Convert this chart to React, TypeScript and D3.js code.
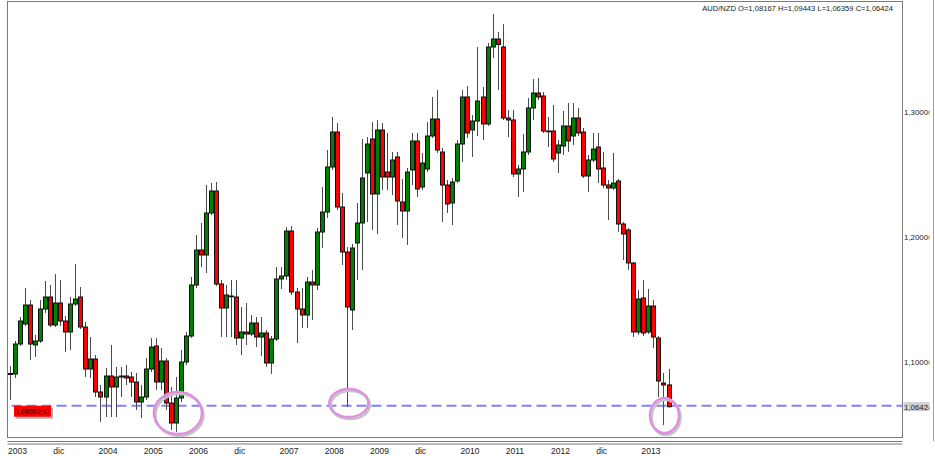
import React from "react";
import * as d3 from "d3";

const W = 935;
const H = 456;

const opens = [1.09,1.0904,1.1144,1.1304,1.1456,1.1136,1.1168,1.1424,1.152,1.1296,1.1472,1.1328,1.124,1.1464,1.152,1.128,1.0944,1.1024,1.076,1.072,1.0888,1.08,1.088,1.0888,1.088,1.084,1.068,1.072,1.0944,1.1128,1.084,1.1008,1.0672,1.0512,1.0712,1.1,1.1208,1.1616,1.1896,1.1856,1.2192,1.2368,1.1624,1.1432,1.1528,1.152,1.1192,1.124,1.1224,1.1312,1.12,1.1232,1.0992,1.1184,1.1664,1.1688,1.2048,1.156,1.1424,1.1376,1.164,1.1616,1.204,1.22,1.256,1.284,1.224,1.188,1.1416,1.1952,1.2112,1.2512,1.2784,1.2344,1.2856,1.252,1.248,1.264,1.228,1.2208,1.2536,1.2768,1.24,1.2544,1.2808,1.2944,1.268,1.2416,1.2272,1.2448,1.2744,1.312,1.2856,1.2928,1.312,1.2904,1.352,1.3584,1.352,1.2952,1.2936,1.2504,1.2544,1.268,1.3032,1.3152,1.3128,1.2848,1.2848,1.2672,1.2728,1.2888,1.2808,1.2952,1.284,1.2488,1.2616,1.272,1.2552,1.2416,1.2392,1.2448,1.2104,1.2056,1.1792,1.124,1.1512,1.124,1.1448,1.1192,1.0832,1.08167];
const highs = [1.0968,1.1168,1.136,1.1592,1.1496,1.1216,1.1496,1.1648,1.1616,1.1704,1.1656,1.1368,1.152,1.1784,1.16,1.132,1.12,1.1056,1.0816,1.0952,1.1136,1.096,1.096,1.0976,1.092,1.0912,1.0816,1.1032,1.1192,1.1192,1.1112,1.1032,1.08,1.088,1.1096,1.124,1.168,1.2016,1.2112,1.2416,1.2432,1.244,1.1656,1.1616,1.1656,1.1656,1.144,1.1472,1.1376,1.136,1.136,1.1256,1.1208,1.176,1.176,1.208,1.2088,1.1592,1.1592,1.168,1.1736,1.2072,1.24,1.2696,1.296,1.2912,1.2352,1.192,1.1944,1.2272,1.2784,1.28,1.292,1.2936,1.2912,1.2832,1.268,1.268,1.2464,1.2552,1.2832,1.2832,1.2672,1.292,1.312,1.3176,1.2712,1.2456,1.2472,1.2776,1.3176,1.3208,1.2976,1.352,1.32,1.3552,1.3784,1.364,1.3704,1.3016,1.3016,1.2576,1.2824,1.3112,1.3264,1.3272,1.316,1.296,1.3056,1.2776,1.3008,1.3072,1.3072,1.3032,1.2872,1.2656,1.2832,1.2832,1.268,1.2456,1.2672,1.2464,1.212,1.2072,1.18,1.1576,1.1656,1.1584,1.1496,1.1208,1.0912,1.09443];
const lows = [1.0696,1.0872,1.1128,1.1288,1.1016,1.104,1.1152,1.1392,1.128,1.128,1.1288,1.108,1.1096,1.1448,1.1264,1.088,1.0872,1.072,1.052,1.056,1.056,1.056,1.072,1.0816,1.072,1.0616,1.0552,1.0696,1.092,1.0776,1.0776,1.0616,1.0456,1.044,1.068,1.0976,1.1192,1.1592,1.176,1.1712,1.2176,1.1608,1.12,1.12,1.12,1.1136,1.1056,1.1136,1.1208,1.112,1.1048,1.096,1.0904,1.1168,1.1584,1.1656,1.1536,1.1152,1.1272,1.1272,1.1336,1.1576,1.1912,1.2152,1.2536,1.2216,1.1776,1.064,1.1256,1.1656,1.1736,1.212,1.2056,1.2024,1.2376,1.2376,1.2336,1.2096,1.1992,1.1936,1.2416,1.232,1.2376,1.252,1.2792,1.2672,1.212,1.2192,1.2096,1.2432,1.26,1.2792,1.264,1.2808,1.2776,1.2888,1.3432,1.3176,1.2936,1.28,1.248,1.232,1.236,1.2656,1.2936,1.3096,1.2832,1.272,1.26,1.2512,1.2656,1.268,1.2736,1.2808,1.2472,1.236,1.26,1.2432,1.2392,1.2136,1.2376,1.204,1.1816,1.1736,1.12,1.1216,1.1208,1.1224,1.1112,1.072,1.0496,1.06359];
const closes = [1.0908,1.1144,1.1328,1.1456,1.1144,1.1168,1.1424,1.152,1.1296,1.1472,1.1328,1.124,1.1464,1.1504,1.128,1.0944,1.1024,1.076,1.072,1.0888,1.08,1.088,1.0888,1.0872,1.084,1.068,1.072,1.0944,1.112,1.084,1.1008,1.0672,1.0512,1.0712,1.1,1.1208,1.1616,1.1896,1.1856,1.2192,1.2368,1.1624,1.1432,1.1536,1.1524,1.1192,1.124,1.1224,1.1312,1.12,1.1232,1.0992,1.1184,1.1664,1.1688,1.2048,1.156,1.1424,1.1376,1.164,1.1616,1.204,1.22,1.256,1.284,1.224,1.188,1.144,1.1912,1.2112,1.2472,1.2744,1.2344,1.2856,1.248,1.248,1.2616,1.2288,1.2208,1.252,1.2768,1.2384,1.2592,1.2808,1.2944,1.2696,1.2416,1.2264,1.244,1.2744,1.312,1.2832,1.2928,1.3088,1.2904,1.352,1.3584,1.354,1.2952,1.2936,1.2504,1.2544,1.268,1.3032,1.3152,1.312,1.2848,1.2844,1.2624,1.2736,1.2888,1.2768,1.2952,1.2832,1.2488,1.2616,1.2704,1.2544,1.2416,1.2392,1.2432,1.2104,1.2024,1.1792,1.124,1.1504,1.1232,1.1448,1.12,1.0848,1.0816,1.06424];

const xLabels = ["2003","dic","2004","2005","2006","dic","2007","2008","2009","dic","2010","2011","2012","dic","2013"];
const xLabelEvery = 9;
const yTicks = [1.1, 1.2, 1.3];
const hLineLevel = 1.06502;
const hLineLabel = "1,06502,C";
const lastClose = 1.06424;
const title = "AUD/NZD O=1,08167 H=1,09443 L=1,06359 C=1,06424";
// annotation ellipses: candle index, price, radii
const circleIdx = [33.4, 67.4, 130.2];
const circlePrice = [1.0592, 1.0672, 1.0572];
const circleRx = [24, 19.5, 14.5];
const circleRy = [21, 14, 17.5];

const FONT = "'Liberation Sans', Arial, sans-serif";

export default function App() {
  const plotL = 7.5, plotR = 902.5, plotT = 1.5, plotB = 437.5;
  const n = opens.length;
  const x = d3.scaleLinear().domain([0, n - 1]).range([10, 668.5]);
  const y = d3.scaleLinear().domain([1.04, 1.388]).range([437, 2]);
  const fmt = (v: number) => d3.format(".5f")(v).replace(".", ",");
  const candles = d3.range(n).map((i) => ({
    i, o: opens[i], h: highs[i], l: lows[i], c: closes[i],
  }));

  return (
    <svg width={W} height={H} style={{ position: "absolute", left: 0, top: 0, background: "#fff" }} fontFamily={FONT}>
      <defs>
        <clipPath id="rightclip">
          <rect x={0} y={0} width={929.5} height={H} />
        </clipPath>
        <clipPath id="plotclip">
          <rect x={plotL} y={plotT} width={plotR - plotL} height={plotB - plotT} />
        </clipPath>
      </defs>
      <rect x={0} y={0} width={W} height={H} fill="#fff" />
      <line x1={933.5} x2={933.5} y1={0} y2={441} stroke="#a0a0a0" />
      <rect x={plotL} y={plotT} width={plotR - plotL} height={plotB - plotT} fill="none" stroke="#7a7a7a" />
      <line x1={plotL} x2={plotR} y1={441.5} y2={441.5} stroke="#7a7a7a" />
      <line x1={plotL} x2={plotR} y1={444} y2={444} stroke="#7a7a7a" />

      <line x1={plotL + 4} x2={plotR} y1={y(hLineLevel)} y2={y(hLineLevel)} stroke="#8080ff" strokeWidth={2} strokeDasharray="10,5" />

      <g clipPath="url(#plotclip)">
        {candles.map((d) => {
          const cx = Math.round(x(d.i)) + 0.5;
          const top = Math.min(y(d.o), y(d.c));
          const bot = Math.max(y(d.o), y(d.c));
          const up = d.c >= d.o;
          return (
            <g key={d.i}>
              <line x1={cx} x2={cx} y1={y(d.h)} y2={y(d.l)} stroke="#4a4a4a" strokeWidth={1} />
              <rect x={cx - 2} y={top} width={4} height={Math.max(bot - top, 0.8)} fill={up ? "#008000" : "#ff0000"} stroke="#111" strokeWidth={1} />
            </g>
          );
        })}
      </g>

      {circleIdx.map((ci, k) => (
        <g key={k}>
          <ellipse cx={x(ci) + 1.5} cy={y(circlePrice[k]) + 2} rx={circleRx[k]} ry={circleRy[k]} fill="none" stroke="#c4c4c4" strokeWidth={2.6} />
          <ellipse cx={x(ci)} cy={y(circlePrice[k])} rx={circleRx[k]} ry={circleRy[k]} fill="none" stroke="#e08ee0" strokeWidth={2.4} />
        </g>
      ))}

      <rect x={16} y={y(hLineLevel) + 2} width={37} height={11} fill="#b0b0b0" />
      <rect x={14} y={y(hLineLevel)} width={37} height={11} fill="#ff0000" />
      <text x={15.5} y={y(hLineLevel) + 8.4} fontSize={7.2} fill="#1a0000">{hLineLabel}</text>

      <g clipPath="url(#rightclip)">
        {yTicks.map((t) => (
          <text key={t} x={904} y={y(t) + 3} fontSize={7.9} fill="#222">{fmt(t)}</text>
        ))}
        <rect x={903.5} y={y(lastClose) - 4.5} width={27} height={9} fill="#cfcfcf" />
        <text x={904} y={y(lastClose) + 3} fontSize={7.9} fill="#222">{fmt(lastClose)}</text>
      </g>

      {xLabels.map((lab, k) => (
        <text key={k} x={x(k * xLabelEvery) - 2} y={454} fontSize={8.6} fill="#222">{lab}</text>
      ))}

      <text x={893} y={11} textAnchor="end" fontSize={7.6} fill="#222">{title}</text>
    </svg>
  );
}
